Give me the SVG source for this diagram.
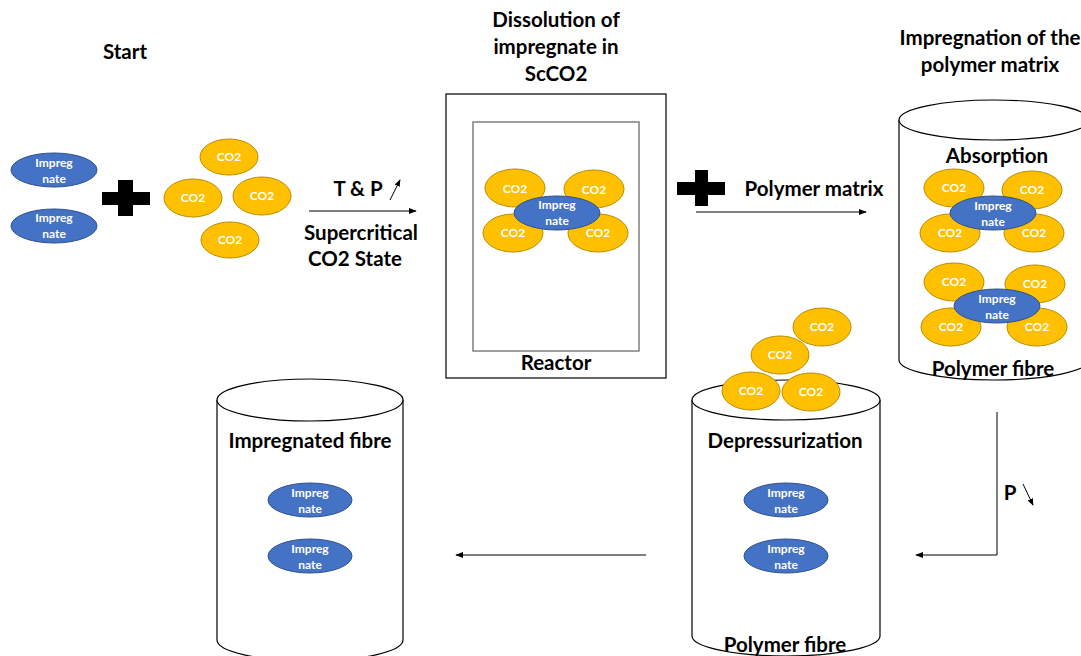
<svg xmlns="http://www.w3.org/2000/svg" width="1081" height="656" viewBox="0 0 1081 656">
<defs>
<style>
.t{font-family:Lato,"Open Sans","Liberation Sans",sans-serif;font-weight:bold;font-size:20.5px;fill:#000;text-anchor:middle}
.s{font-family:Lato,"Open Sans","Liberation Sans",sans-serif;font-weight:bold;font-size:12px;fill:#fff;text-anchor:middle}
.imp{fill:#4472C4;stroke:#2F528F;stroke-width:1}
.co2{fill:#FFC000;stroke:#BC8C00;stroke-width:1}
.box{fill:#fff;stroke:#000;stroke-width:1.2}
.cyl{fill:#fff;stroke:#000;stroke-width:1.2}
.ln{fill:none;stroke:#000;stroke-width:1}
</style>
<marker id="ah" viewBox="0 0 10 10" refX="9" refY="5" markerWidth="8" markerHeight="8" orient="auto" markerUnits="userSpaceOnUse"><path d="M0,1 L10,5 L0,9 z" fill="#000"/></marker>
<marker id="sm" viewBox="0 0 10 10" refX="9" refY="5" markerWidth="7" markerHeight="7" orient="auto" markerUnits="userSpaceOnUse"><path d="M0,1 L10,5 L0,9 z" fill="#000"/></marker>
</defs>
<rect width="1081" height="656" fill="#fff"/>

<g id="start">
<text class="t" x="125" y="59">Start</text>
<ellipse class="imp" cx="54" cy="170" rx="43" ry="17"/>
<text class="s" x="54" y="167">Impreg</text><text class="s" x="54" y="183">nate</text>
<ellipse class="imp" cx="54" cy="226" rx="43" ry="17"/>
<text class="s" x="54" y="222">Impreg</text><text class="s" x="54" y="238">nate</text>
<path d="M118,180 H133 V192 H150 V205 H133 V216 H118 V205 H102 V192 H118 Z" fill="#000"/>
<ellipse class="co2" cx="229" cy="157" rx="29" ry="18"/><text class="s" x="229" y="161">CO2</text>
<ellipse class="co2" cx="193" cy="198" rx="29" ry="19"/><text class="s" x="193" y="202">CO2</text>
<ellipse class="co2" cx="262" cy="196" rx="29" ry="19"/><text class="s" x="262" y="200">CO2</text>
<ellipse class="co2" cx="230" cy="240" rx="29" ry="18"/><text class="s" x="230" y="244">CO2</text>
</g>

<g id="reactor">
<text class="t" x="556" y="27">Dissolution of</text>
<text class="t" x="556" y="54">impregnate in</text>
<text class="t" x="556" y="81">ScCO2</text>
<rect class="box" x="446" y="94" width="220" height="284"/>
<rect x="473" y="122" width="166" height="229" fill="none" stroke="#7f7f7f" stroke-width="1.5"/>
<text class="t" x="556" y="370">Reactor</text>
<ellipse class="co2" cx="515" cy="188" rx="30" ry="19"/><text class="s" x="515" y="193">CO2</text>
<ellipse class="co2" cx="594" cy="189" rx="30" ry="19"/><text class="s" x="594" y="194">CO2</text>
<ellipse class="co2" cx="513" cy="233" rx="30" ry="19"/><text class="s" x="513" y="237">CO2</text>
<ellipse class="co2" cx="598" cy="233" rx="30" ry="19"/><text class="s" x="598" y="237">CO2</text>
<ellipse class="imp" cx="557" cy="213" rx="43" ry="17"/>
<text class="s" x="557" y="209">Impreg</text><text class="s" x="557" y="225">nate</text>
</g>

<g id="impregnation">
<text class="t" x="990" y="45">Impregnation of the</text>
<text class="t" x="990" y="72">polymer matrix</text>
<path class="cyl" d="M899,120 V360 A95,20 0 0 0 1089,360 V120"/>
<ellipse class="cyl" cx="994" cy="120" rx="95" ry="20"/>
<text class="t" x="997" y="163">Absorption</text>
<ellipse class="co2" cx="954" cy="188" rx="30" ry="19"/><text class="s" x="954" y="192">CO2</text>
<ellipse class="co2" cx="1032" cy="190" rx="30" ry="19"/><text class="s" x="1032" y="194">CO2</text>
<ellipse class="co2" cx="950" cy="233" rx="30" ry="19"/><text class="s" x="950" y="237">CO2</text>
<ellipse class="co2" cx="1034" cy="233" rx="30" ry="19"/><text class="s" x="1034" y="237">CO2</text>
<ellipse class="imp" cx="993" cy="213" rx="43" ry="17"/>
<text class="s" x="993" y="210">Impreg</text><text class="s" x="993" y="226">nate</text>
<ellipse class="co2" cx="954" cy="282" rx="30" ry="19"/><text class="s" x="954" y="286">CO2</text>
<ellipse class="co2" cx="1035" cy="284" rx="30" ry="19"/><text class="s" x="1035" y="288">CO2</text>
<ellipse class="co2" cx="951" cy="327" rx="30" ry="19"/><text class="s" x="951" y="331">CO2</text>
<ellipse class="co2" cx="1037" cy="327" rx="30" ry="19"/><text class="s" x="1037" y="331">CO2</text>
<ellipse class="imp" cx="997" cy="306" rx="43" ry="17"/>
<text class="s" x="997" y="303">Impreg</text><text class="s" x="997" y="319">nate</text>
<text class="t" x="993" y="376">Polymer fibre</text>
</g>

<g id="depressurization">
<path class="cyl" d="M692,400 V636 A94,20 0 0 0 880,636 V400"/>
<ellipse class="cyl" cx="786" cy="400" rx="94" ry="20"/>
<ellipse class="co2" cx="822" cy="327" rx="29" ry="19"/><text class="s" x="822" y="331">CO2</text>
<ellipse class="co2" cx="780" cy="355" rx="29" ry="19"/><text class="s" x="780" y="359">CO2</text>
<ellipse class="co2" cx="751" cy="391" rx="29" ry="19"/><text class="s" x="751" y="395">CO2</text>
<ellipse class="co2" cx="811" cy="392" rx="29" ry="19"/><text class="s" x="811" y="396">CO2</text>
<text class="t" x="785" y="448">Depressurization</text>
<ellipse class="imp" cx="786" cy="500" rx="42" ry="17"/>
<text class="s" x="786" y="497">Impreg</text><text class="s" x="786" y="513">nate</text>
<ellipse class="imp" cx="786" cy="556" rx="42" ry="17"/>
<text class="s" x="786" y="553">Impreg</text><text class="s" x="786" y="569">nate</text>
<text class="t" x="785" y="652">Polymer fibre</text>
</g>

<g id="impregnated">
<path class="cyl" d="M217,400 V640 A93,21 0 0 0 403,640 V400"/>
<ellipse class="cyl" cx="310" cy="400" rx="93" ry="21"/>
<text class="t" x="310" y="448">Impregnated fibre</text>
<ellipse class="imp" cx="310" cy="500" rx="42" ry="17"/>
<text class="s" x="310" y="497">Impreg</text><text class="s" x="310" y="513">nate</text>
<ellipse class="imp" cx="310" cy="556" rx="42" ry="17"/>
<text class="s" x="310" y="553">Impreg</text><text class="s" x="310" y="569">nate</text>
</g>

<g id="connectors">
<line class="ln" x1="309" y1="211" x2="416" y2="211" marker-end="url(#ah)"/>
<text class="t" x="358" y="196">T &amp; P</text>
<line class="ln" x1="390" y1="200" x2="400" y2="180" marker-end="url(#sm)"/>
<text class="t" x="361" y="240">Supercritical</text>
<text class="t" x="355" y="266">CO2 State</text>
<path d="M695,170 H708 V182 H725 V195 H708 V206 H695 V195 H677 V182 H695 Z" fill="#000"/>
<text class="t" x="814" y="196">Polymer matrix</text>
<line class="ln" x1="696" y1="212" x2="866" y2="212" marker-end="url(#ah)"/>
<path class="ln" d="M997,412 V555 H916" marker-end="url(#ah)"/>
<text class="t" x="1010" y="500">P</text>
<line class="ln" x1="1023" y1="484" x2="1033" y2="505" marker-end="url(#sm)"/>
<line class="ln" x1="646" y1="555" x2="456" y2="555" marker-end="url(#ah)"/>
</g>
</svg>
